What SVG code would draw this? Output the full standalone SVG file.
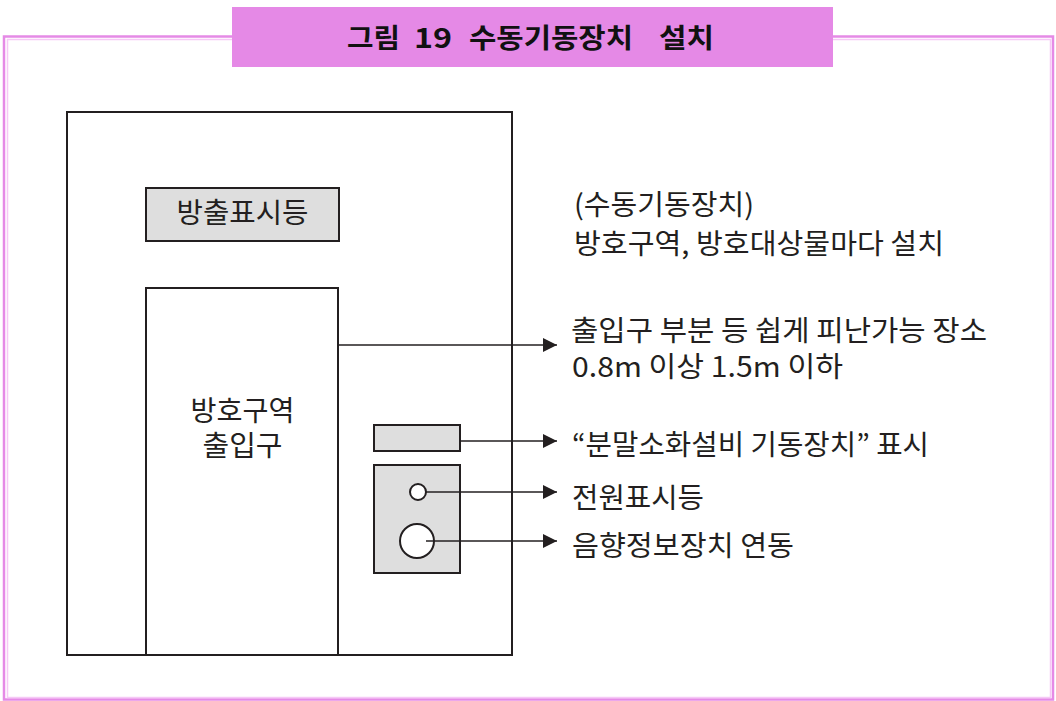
<svg xmlns="http://www.w3.org/2000/svg" width="1056" height="701" viewBox="0 0 1056 701">
<defs>
<style>
.ln{fill:none;stroke:#231f20;stroke-width:2}
.gr{fill:#dedede;stroke:#231f20;stroke-width:2}
.wh{fill:#ffffff;stroke:#231f20;stroke-width:2}
.t{font-family:"Noto Sans CJK KR","Noto Sans",sans-serif;font-size:28px;fill:#231f20}
.ti{font-family:"Noto Sans CJK KR","Noto Sans",sans-serif;font-size:27px;font-weight:bold;fill:#111111}
.cn{fill:none;stroke:#231f20;stroke-width:1.6}
</style>
<marker id="ah" markerWidth="14" markerHeight="14" refX="14" refY="7" orient="auto" markerUnits="userSpaceOnUse">
<path d="M0,0 L14,7 L0,14 Z" fill="#231f20"/>
</marker>
</defs>
<rect x="0" y="0" width="1056" height="701" fill="#ffffff"/>
<g id="frame">
<rect x="4" y="36.5" width="1049" height="663" fill="none" stroke="#e58ae6" stroke-width="2.5"/>
<rect x="7.5" y="39.5" width="1043" height="658" fill="none" stroke="#f6c8f6" stroke-width="1.5"/>
</g>
<g id="title">
<rect x="232" y="7" width="601" height="60" fill="#e589e6"/>
<text class="ti" x="347" y="48" textLength="53" lengthAdjust="spacingAndGlyphs">그림</text>
<text class="ti" x="414" y="48" textLength="38" lengthAdjust="spacingAndGlyphs">19</text>
<text class="ti" x="469" y="48" textLength="164" lengthAdjust="spacingAndGlyphs">수동기동장치</text>
<text class="ti" x="659" y="48" textLength="55" lengthAdjust="spacingAndGlyphs">설치</text>
</g>
<g id="wall">
<rect class="wh" x="67" y="112" width="445" height="543"/>
</g>
<g id="exit-lamp">
<rect class="gr" x="146" y="188" width="193" height="53"/>
<text class="t" x="242.5" y="223" text-anchor="middle" textLength="132" lengthAdjust="spacingAndGlyphs">방출표시등</text>
</g>
<g id="door">
<rect class="wh" x="146" y="288" width="192" height="367"/>
<text class="t" x="242.5" y="421" text-anchor="middle" textLength="104" lengthAdjust="spacingAndGlyphs">방호구역</text>
<text class="t" x="242.5" y="456" text-anchor="middle" textLength="80" lengthAdjust="spacingAndGlyphs">출입구</text>
</g>
<g id="sign">
<rect class="gr" x="374" y="425" width="86" height="26"/>
</g>
<g id="panel">
<rect class="gr" x="374" y="465" width="86" height="108"/>
<circle class="wh" cx="418" cy="492" r="8" stroke-width="1.8"/>
<circle class="wh" cx="417" cy="541" r="17"/>
</g>
<g id="connectors">
<line class="cn" x1="339" y1="345" x2="557" y2="345" marker-end="url(#ah)"/>
<line class="cn" x1="460" y1="441" x2="557" y2="441" marker-end="url(#ah)"/>
<line class="cn" x1="426" y1="492" x2="557" y2="492" marker-end="url(#ah)"/>
<line class="cn" x1="426" y1="541" x2="557" y2="541" marker-end="url(#ah)"/>
</g>
<g id="labels">
<text class="t" x="574" y="215" textLength="180" lengthAdjust="spacingAndGlyphs">(수동기동장치)</text>
<text class="t" x="574" y="254" textLength="370" lengthAdjust="spacingAndGlyphs">방호구역, 방호대상물마다 설치</text>
<text class="t" x="571" y="341" textLength="416" lengthAdjust="spacingAndGlyphs">출입구 부분 등 쉽게 피난가능 장소</text>
<text class="t" x="572" y="377" textLength="271" lengthAdjust="spacingAndGlyphs">0.8m 이상 1.5m 이하</text>
<text class="t" x="572" y="455" textLength="357" lengthAdjust="spacingAndGlyphs">“분말소화설비 기동장치” 표시</text>
<text class="t" x="572" y="508" textLength="132" lengthAdjust="spacingAndGlyphs">전원표시등</text>
<text class="t" x="572" y="556" textLength="222" lengthAdjust="spacingAndGlyphs">음향정보장치 연동</text>
</g>
</svg>
